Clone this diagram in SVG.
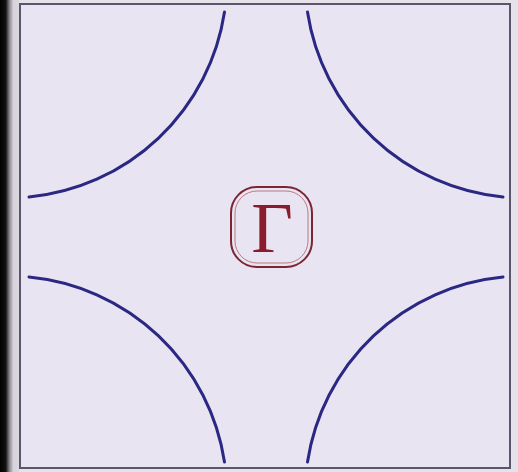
<svg xmlns="http://www.w3.org/2000/svg" width="518" height="472" viewBox="0 0 518 472">
  <defs>
    <linearGradient id="edge" x1="0" y1="0" x2="1" y2="0">
      <stop offset="0" stop-color="#000000"/>
      <stop offset="0.3" stop-color="#111111"/>
      <stop offset="0.5" stop-color="#8a8790"/>
      <stop offset="0.7" stop-color="#d6d3da"/>
      <stop offset="1" stop-color="#dcd8e0"/>
    </linearGradient>
    <style>
      .arc { fill: none; stroke: #2a2882; stroke-width: 3; stroke-linecap: round; }
      .frame { fill: #e9e4f2; stroke: #5b566c; stroke-width: 2; }
      .gbox { fill: none; stroke: #7c2533; stroke-width: 2; }
      .gbox-in { fill: none; stroke: #b87a84; stroke-width: 1; }
      .glabel { font-family: "Liberation Serif", "DejaVu Serif", serif; font-size: 72px; fill: #8a1c2c; }
    </style>
  </defs>
  <rect x="0" y="0" width="518" height="472" fill="#e6e2ea"/>
  <rect x="0" y="0" width="19" height="472" fill="url(#edge)"/>
  <rect class="frame" x="20" y="4" width="490" height="464"/>
  <g id="connectors">
    <path id="arc-tl" class="arc" d="M224.5,12 A219,219 0 0 1 29,197"/>
    <path id="arc-tr" class="arc" d="M307.5,12 A219,219 0 0 0 503,197"/>
    <path id="arc-bl" class="arc" d="M29,277 A219,219 0 0 1 224.5,462"/>
    <path id="arc-br" class="arc" d="M503,277 A219,219 0 0 0 307.5,462"/>
  </g>
  <g id="gamma">
    <rect class="gbox" x="231" y="187" width="81" height="80" rx="26" ry="26"/>
    <rect class="gbox-in" x="235" y="191" width="73" height="72" rx="22" ry="22"/>
    <text class="glabel" x="272" y="252" text-anchor="middle">Γ</text>
  </g>
</svg>
